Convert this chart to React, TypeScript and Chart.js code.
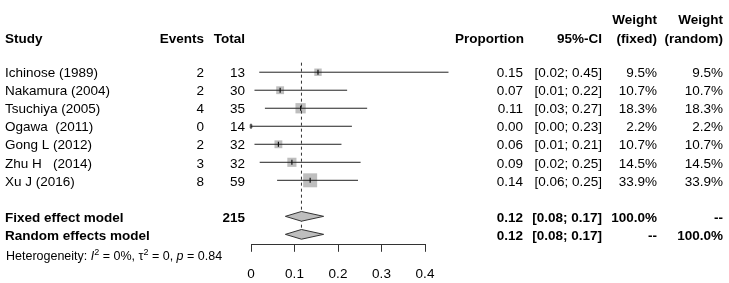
import React, { useEffect, useRef } from "react";
import { Chart, registerables } from "chart.js";

Chart.register(...registerables);

// ---------- data ----------
const studies = [
  "Ichinose (1989)",
  "Nakamura (2004)",
  "Tsuchiya (2005)",
  "Ogawa  (2011)",
  "Gong L (2012)",
  "Zhu H   (2014)",
  "Xu J (2016)",
];
const events = [2, 2, 4, 0, 2, 3, 8];
const totals = [13, 30, 35, 14, 32, 32, 59];
const proportions = [0.154, 0.067, 0.114, 0.0, 0.063, 0.094, 0.136];
const ciLower = [0.019, 0.008, 0.032, 0.0, 0.008, 0.02, 0.06];
const ciUpper = [0.454, 0.221, 0.267, 0.232, 0.208, 0.252, 0.246];
const weightFixed = [9.5, 10.7, 18.3, 2.2, 10.7, 14.5, 33.9];
const weightRandom = [9.5, 10.7, 18.3, 2.2, 10.7, 14.5, 33.9];

const pooledTotal = 215;
const pooledEst = 0.116;
const pooledLower = 0.079;
const pooledUpper = 0.167;

const xTicks = [0, 0.1, 0.2, 0.3, 0.4];
const hetI2 = "0%";
const hetTau2 = "0";
const hetP = "0.84";

// ---------- layout constants ----------
const FONT = "'Liberation Sans', Arial, Helvetica, sans-serif";
const FS = 13.5;
const FIXED_ROW = 8;
const RANDOM_ROW = 9;
const HET_ROW = 10.17;
const HEAD1_ROW = -2.95;
const HEAD2_ROW = -1.9;
const DIAMOND_HALF = 0.27;
const GRAY = "#bebebe";

const COL = {
  study: 5,
  events: 204,
  total: 245,
  prop: 523,
  ci: 602,
  wf: 657,
  wr: 723,
};

const fmt2 = (v: number) => v.toFixed(2);
const fmtW = (v: number) => v.toFixed(1) + "%";

const textPlugin = {
  id: "forestText",
  afterDraw(chart: any) {
    const ctx: CanvasRenderingContext2D = chart.ctx;
    const ys = chart.scales.y;
    const rowY = (v: number) => ys.getPixelForValue(v) + 1.5;
    ctx.save();
    ctx.fillStyle = "#000";
    ctx.textBaseline = "middle";
    const put = (
      txt: string,
      x: number,
      row: number,
      align: CanvasTextAlign,
      bold = false,
      size = FS
    ) => {
      ctx.font = `${bold ? "bold " : ""}${size}px ${FONT}`;
      ctx.textAlign = align;
      ctx.fillText(txt, x, rowY(row));
    };

    // headers
    put("Study", COL.study, HEAD2_ROW, "left", true);
    put("Events", COL.events, HEAD2_ROW, "right", true);
    put("Total", COL.total, HEAD2_ROW, "right", true);
    put("Proportion", COL.prop + 1, HEAD2_ROW, "right", true);
    put("95%-CI", COL.ci, HEAD2_ROW, "right", true);
    put("Weight", COL.wf, HEAD1_ROW, "right", true);
    put("(fixed)", COL.wf, HEAD2_ROW, "right", true);
    put("Weight", COL.wr, HEAD1_ROW, "right", true);
    put("(random)", COL.wr, HEAD2_ROW, "right", true);

    // study rows
    studies.forEach((s, i) => {
      put(s, COL.study, i, "left");
      put(String(events[i]), COL.events, i, "right");
      put(String(totals[i]), COL.total, i, "right");
      put(fmt2(proportions[i]), COL.prop, i, "right");
      put(`[${fmt2(ciLower[i])}; ${fmt2(ciUpper[i])}]`, COL.ci, i, "right");
      put(fmtW(weightFixed[i]), COL.wf, i, "right");
      put(fmtW(weightRandom[i]), COL.wr, i, "right");
    });

    // pooled rows
    const pooledCI = `[${fmt2(pooledLower)}; ${fmt2(pooledUpper)}]`;
    put("Fixed effect model", COL.study, FIXED_ROW, "left", true);
    put(String(pooledTotal), COL.total, FIXED_ROW, "right", true);
    put(fmt2(pooledEst), COL.prop, FIXED_ROW, "right", true);
    put(pooledCI, COL.ci, FIXED_ROW, "right", true);
    put("100.0%", COL.wf, FIXED_ROW, "right", true);
    put("--", COL.wr, FIXED_ROW, "right", true);

    put("Random effects model", COL.study, RANDOM_ROW, "left", true);
    put(fmt2(pooledEst), COL.prop, RANDOM_ROW, "right", true);
    put(pooledCI, COL.ci, RANDOM_ROW, "right", true);
    put("--", COL.wf, RANDOM_ROW, "right", true);
    put("100.0%", COL.wr, RANDOM_ROW, "right", true);

    // heterogeneity line with italic + superscripts
    const hs = 12.5;
    const base = rowY(HET_ROW);
    let x = COL.study + 1;
    ctx.textAlign = "left";
    const seg = (t: string, style: string, size: number, dy = 0) => {
      ctx.font = `${style}${size}px ${FONT}`;
      ctx.fillText(t, x, base + dy);
      x += ctx.measureText(t).width;
    };
    seg("Heterogeneity: ", "", hs);
    seg("I", "italic ", hs);
    seg("2", "", hs * 0.72, -4.5);
    seg(` = ${hetI2}, `, "", hs);
    seg("\u03C4", "", hs);
    seg("2", "", hs * 0.72, -4.5);
    seg(` = ${hetTau2}, `, "", hs);
    seg("p", "italic ", hs);
    seg(` = ${hetP}`, "", hs);

    ctx.restore();
  },
};

export default function App() {
  const ref = useRef<HTMLCanvasElement | null>(null);

  useEffect(() => {
    const canvas = ref.current;
    if (!canvas) return;

    const ciData: any[] = [];
    studies.forEach((_, i) => {
      ciData.push({ x: ciLower[i], y: i });
      ciData.push({ x: ciUpper[i], y: i });
      ciData.push({ x: null, y: null });
    });

    const squareRadius = weightFixed.map(
      (w) => (2.4 * Math.sqrt(w)) / (2 * Math.SQRT1_2)
    );

    const diamond = (row: number) => [
      { x: pooledLower, y: row },
      { x: pooledEst, y: row - DIAMOND_HALF },
      { x: pooledUpper, y: row },
      { x: pooledEst, y: row + DIAMOND_HALF },
      { x: pooledLower, y: row },
    ];

    const chart = new Chart(canvas, {
      type: "scatter",
      data: {
        datasets: [
          {
            type: "scatter",
            label: "squares",
            data: proportions.map((p, i) => ({ x: p, y: i })),
            pointStyle: "rect",
            pointRadius: squareRadius,
            backgroundColor: GRAY,
            borderWidth: 0,
            order: 5,
            clip: false,
          } as any,
          {
            type: "line",
            label: "pooled line",
            data: [
              { x: pooledEst, y: -0.53 },
              { x: pooledEst, y: RANDOM_ROW },
            ],
            borderColor: "#333",
            borderWidth: 1,
            borderDash: [3, 3],
            pointRadius: 0,
            fill: false,
            order: 4,
            clip: false,
          } as any,
          {
            type: "line",
            label: "ci",
            data: ciData,
            borderColor: "#222",
            borderWidth: 1,
            pointRadius: 0,
            spanGaps: false,
            fill: false,
            tension: 0,
            order: 3,
            clip: false,
          } as any,
          {
            type: "scatter",
            label: "estimates",
            data: proportions.map((p, i) => ({ x: p, y: i })),
            pointStyle: "line",
            rotation: 90,
            pointRadius: 2.5,
            borderColor: "#111",
            borderWidth: 1.2,
            order: 2,
            clip: false,
          } as any,
          {
            type: "line",
            label: "fixed",
            data: diamond(FIXED_ROW),
            borderColor: "#333",
            backgroundColor: GRAY,
            borderWidth: 1,
            pointRadius: 0,
            tension: 0,
            fill: "shape",
            order: 1,
            clip: false,
          } as any,
          {
            type: "line",
            label: "random",
            data: diamond(RANDOM_ROW),
            borderColor: "#333",
            backgroundColor: GRAY,
            borderWidth: 1,
            pointRadius: 0,
            tension: 0,
            fill: "shape",
            order: 0,
            clip: false,
          } as any,
        ],
      },
      options: {
        responsive: false,
        animation: false,
        events: [],
        layout: { padding: { left: 251, right: 304, top: 0, bottom: 0 } },
        plugins: {
          legend: { display: false },
          tooltip: { enabled: false },
        },
        scales: {
          x: {
            type: "linear",
            min: 0,
            max: 0.4,
            afterBuildTicks: (s: any) => {
              s.ticks = xTicks.map((v) => ({ value: v }));
            },
            grid: {
              display: true,
              drawOnChartArea: false,
              drawTicks: true,
              tickLength: 7,
              color: "#333",
              tickColor: "#333",
            },
            border: { display: true, color: "#333", width: 1 },
            ticks: {
              padding: 14,
              color: "#000",
              maxRotation: 0,
              font: { family: FONT, size: FS },
              callback: (v: any) => String(v),
            },
          },
          y: {
            type: "linear",
            display: false,
            reverse: true,
            min: -3.46,
            max: 9.58,
          },
        },
      },
      plugins: [textPlugin],
    } as any);

    return () => chart.destroy();
  }, []);

  return (
    <div
      style={{
        position: "fixed",
        left: 0,
        top: 0,
        width: 729,
        height: 283,
        overflow: "hidden",
        background: "#fff",
      }}
    >
      <canvas ref={ref} width={729} height={296} style={{ display: "block" }} />
    </div>
  );
}
